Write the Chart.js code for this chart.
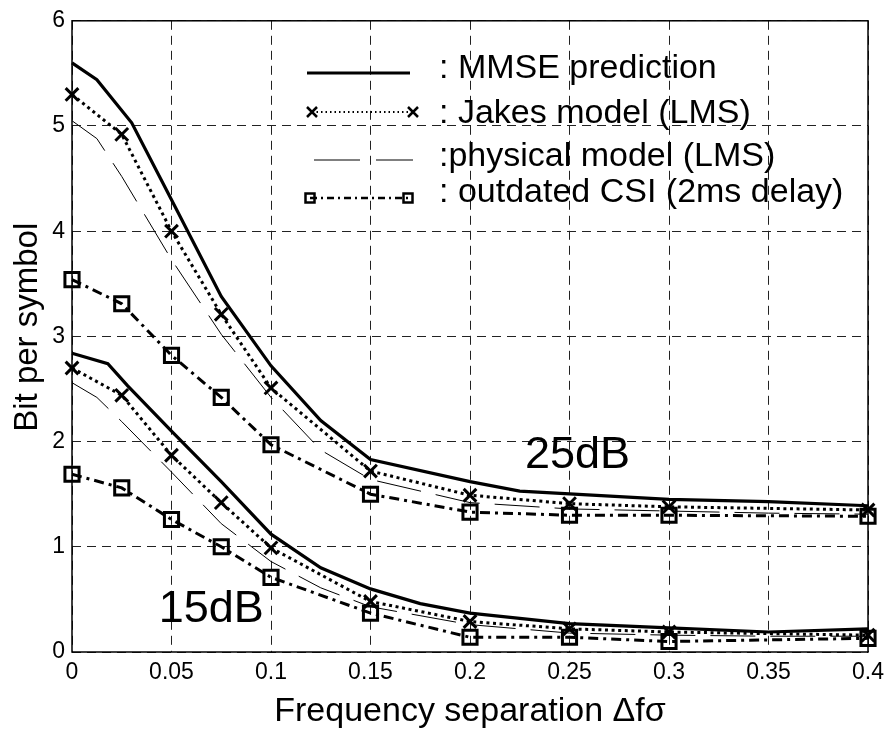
<!DOCTYPE html>
<html>
<head>
<meta charset="utf-8">
<script src="https://cdn.jsdelivr.net/npm/chart.js@4.4.1/dist/chart.umd.min.js"></script>
<style>
  html, body { margin: 0; padding: 0; background: #fff; }
  canvas { display: block; }
</style>
</head>
<body>
<canvas id="grafico" width="891" height="733"></canvas>
<script>
let xTicks = [0, 0.05, 0.1, 0.15, 0.2, 0.25, 0.3, 0.35, 0.4];
let yTicks = [0, 1, 2, 3, 4, 5, 6];

// MMSE prediction (linea continua)
let mmseX25 = [0, 0.0125, 0.03, 0.05, 0.075, 0.1, 0.125, 0.15, 0.2, 0.225, 0.3, 0.35, 0.4];
let mmse25  = [5.60, 5.44, 5.03, 4.30, 3.38, 2.72, 2.20, 1.83, 1.62, 1.53, 1.45, 1.43, 1.39];
let mmseX15 = [0, 0.018, 0.028, 0.05, 0.075, 0.1, 0.125, 0.15, 0.175, 0.2, 0.25, 0.3, 0.35, 0.4];
let mmse15  = [2.84, 2.74, 2.53, 2.10, 1.62, 1.12, 0.80, 0.60, 0.46, 0.37, 0.27, 0.23, 0.19, 0.22];

// Jakes model e outdated CSI: stessi punti con marker
let markX   = [0, 0.025, 0.05, 0.075, 0.1, 0.15, 0.2, 0.25, 0.3, 0.4];
let jakes25 = [5.30, 4.92, 4.00, 3.21, 2.51, 1.72, 1.49, 1.41, 1.38, 1.35];
let jakes15 = [2.70, 2.44, 1.87, 1.42, 0.99, 0.48, 0.29, 0.22, 0.19, 0.16];
let csi25   = [3.54, 3.31, 2.82, 2.42, 1.97, 1.50, 1.33, 1.30, 1.30, 1.29];
let csi15   = [1.69, 1.56, 1.26, 1.00, 0.71, 0.37, 0.14, 0.14, 0.10, 0.13];

// physical model (tratteggio lungo sottile)
let physX  = [0, 0.0125, 0.025, 0.05, 0.075, 0.1, 0.125, 0.15, 0.2, 0.25, 0.3, 0.35, 0.4];
let phys25 = [5.05, 4.88, 4.52, 3.73, 3.02, 2.42, 1.92, 1.64, 1.42, 1.36, 1.34, 1.32, 1.31];
let phys15 = [2.56, 2.42, 2.19, 1.71, 1.22, 0.86, 0.61, 0.43, 0.26, 0.18, 0.16, 0.15, 0.15];

// scritte dentro il grafico
let noteText = ['25dB', '15dB'];
let noteX = [0.254, 0.07];
let noteY = [1.87, 0.40];

let legendText = [': MMSE prediction', ': Jakes model (LMS)', ':physical model (LMS)', ': outdated CSI (2ms delay)'];

let font = '"Liberation Sans", Arial, Helvetica, sans-serif';

function punti(xs, ys) {
    return xs.map((x, i) => ({ x: x, y: ys[i] }));
}

function mmse(ys, xs) {
    return { data: punti(xs, ys), borderColor: '#000', borderWidth: 3.2, pointRadius: 0, clip: false };
}
function jakes(ys) {
    return {
        data: punti(markX, ys), borderColor: '#000', borderWidth: 3, borderDash: [3, 3.6],
        pointStyle: 'crossRot', pointRadius: 9, pointBorderWidth: 3, pointBorderColor: '#000', clip: false
    };
}
function phys(ys) {
    return { data: punti(physX, ys), borderColor: '#000', borderWidth: 1, borderDash: [45, 15], pointRadius: 0, clip: false };
}
function csi(ys) {
    return {
        data: punti(markX, ys), borderColor: '#000', borderWidth: 3, borderDash: [10, 5, 3, 5],
        pointStyle: 'rect', pointRadius: 10, pointBorderWidth: 3, pointBorderColor: '#000',
        pointBackgroundColor: 'rgba(0,0,0,0)', clip: false
    };
}

function linea(ctx, x1, x2, y, w, dash) {
    ctx.save();
    ctx.lineWidth = w;
    ctx.setLineDash(dash);
    ctx.beginPath();
    ctx.moveTo(x1, y);
    ctx.lineTo(x2, y);
    ctx.stroke();
    ctx.restore();
}

// cornice, legenda e scritte 25dB / 15dB
let decorazioni = {
    id: 'decorazioni',
    afterDatasetsDraw(chart) {
        let ctx = chart.ctx, a = chart.chartArea;
        let sx = chart.scales.x, sy = chart.scales.y;
        ctx.save();
        ctx.strokeStyle = '#000';
        ctx.fillStyle = '#000';
        ctx.setLineDash([]);
        ctx.lineWidth = 1.5;
        ctx.strokeRect(a.left, a.top, a.right - a.left, a.bottom - a.top);

        ctx.font = '45px ' + font;
        ctx.textAlign = 'center';
        ctx.textBaseline = 'middle';
        noteText.forEach((t, i) => {
            ctx.fillText(t, sx.getPixelForValue(noteX[i]), sy.getPixelForValue(noteY[i]));
        });

        // legenda senza riquadro
        let righe = [73, 112, 160, 198];
        let basi = [78, 123, 166, 202];
        linea(ctx, 307, 410, righe[0], 3.2, []);
        linea(ctx, 312, 413, righe[1], 2, [1.5, 3]);
        linea(ctx, 314, 413, righe[2], 1, [46, 16]);
        linea(ctx, 310, 408, righe[3], 2.5, [7, 4, 2, 4]);

        ctx.lineWidth = 2.5;
        [312, 413].forEach(x => {
            ctx.beginPath();
            ctx.moveTo(x - 5, righe[1] - 5); ctx.lineTo(x + 5, righe[1] + 5);
            ctx.moveTo(x + 5, righe[1] - 5); ctx.lineTo(x - 5, righe[1] + 5);
            ctx.stroke();
        });
        [310, 408].forEach(x => {
            ctx.strokeRect(x - 4.5, righe[3] - 4.5, 9, 9);
        });

        ctx.font = '34px ' + font;
        ctx.textAlign = 'left';
        ctx.textBaseline = 'alphabetic';
        legendText.forEach((t, i) => ctx.fillText(t, 439, basi[i]));
        ctx.restore();
    }
};

let config = {
    type: 'scatter',
    data: {
        datasets: [
            mmse(mmse25, mmseX25), jakes(jakes25), phys(phys25), csi(csi25),
            mmse(mmse15, mmseX15), jakes(jakes15), phys(phys15), csi(csi15)
        ]
    },
    options: {
        responsive: false,
        animation: false,
        devicePixelRatio: 1,
        showLine: true,
        layout: { padding: { top: 14, right: 21, left: 0, bottom: 0 } },
        plugins: { legend: { display: false }, tooltip: { enabled: false } },
        elements: { line: { tension: 0 } },
        scales: {
            x: {
                type: 'linear', min: 0, max: 0.4,
                afterBuildTicks: s => { s.ticks = xTicks.map(v => ({ value: v })); },
                afterFit: s => { s.height = 81; },
                grid: { color: '#222', lineWidth: 1, drawTicks: false },
                border: { display: false, dash: [9, 6] },
                ticks: {
                    color: '#000', padding: 7, font: { family: font, size: 23 },
                    callback: v => String(parseFloat(v.toFixed(2)))
                },
                title: {
                    display: true, text: 'Frequency separation \u0394f\u03c3', color: '#000',
                    font: { family: font, size: 34 }, padding: { top: 0, bottom: 1 }
                }
            },
            y: {
                type: 'linear', min: 0, max: 6,
                afterBuildTicks: s => { s.ticks = yTicks.map(v => ({ value: v })); },
                afterFit: s => { s.width = 72; },
                grid: { color: '#222', lineWidth: 1, drawTicks: false },
                border: { display: false, dash: [9, 6] },
                ticks: { color: '#000', padding: 7, font: { family: font, size: 23 } },
                title: {
                    // due spazi davanti per alzare un po' la scritta come nell'originale
                    display: true, text: '  Bit per symbol', color: '#000',
                    font: { family: font, size: 33 }, padding: { top: 8, bottom: 0 }
                }
            }
        }
    },
    plugins: [decorazioni]
};

let ctx = document.getElementById('grafico').getContext('2d');
new Chart(ctx, config);
</script>
</body>
</html>
